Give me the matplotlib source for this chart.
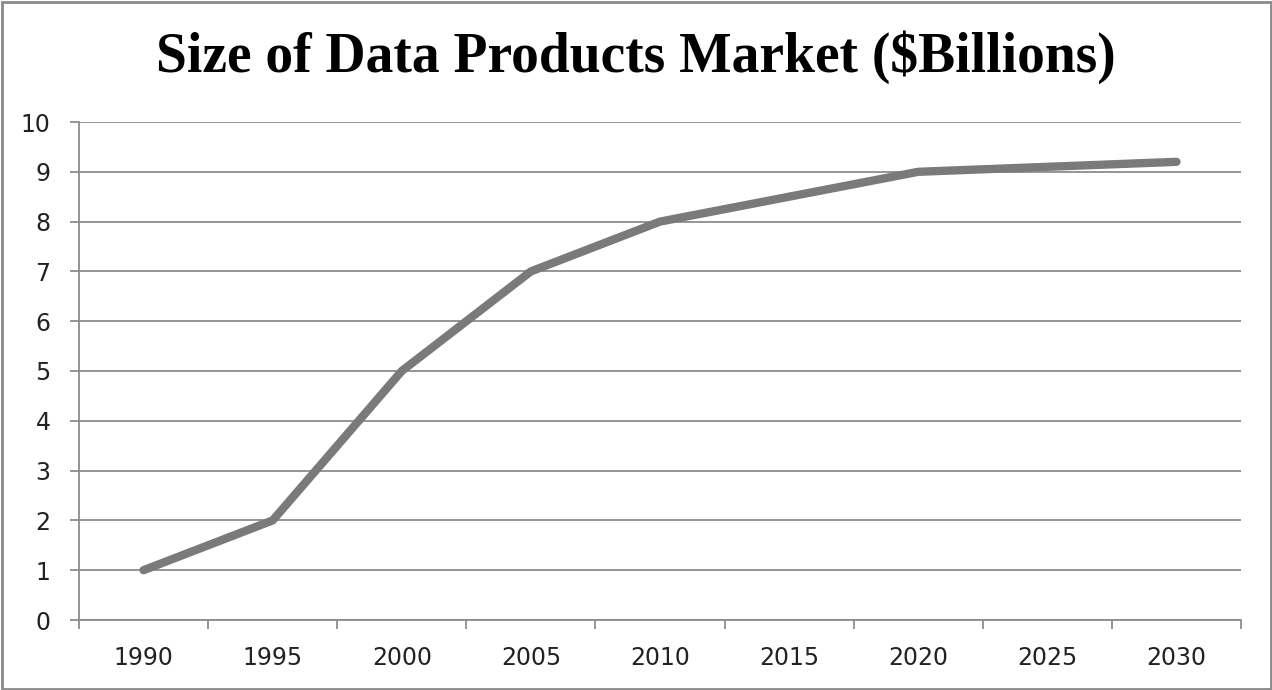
import numpy as np
import matplotlib.pyplot as plt
from matplotlib.patches import Rectangle

# chart data
years = ['1990', '1995', '2000', '2005', '2010', '2015', '2020', '2025', '2030']
market_size = [1, 2, 5, 7, 8, 8.5, 9, 9.1, 9.2]
y_ticks = list(range(0, 11))

grid_col = '#8c8c8c'
line_col = '#7a7a7a'

fig = plt.figure(figsize=(12.72, 6.9), dpi=100)
ax = fig.add_axes([79 / 1272, 70 / 690, (1241 - 79) / 1272, (620 - 122) / 690])

x = np.arange(len(years))
ax.plot(x, market_size, color=line_col, linewidth=6, solid_capstyle='round',
        solid_joinstyle='round', zorder=3)

ax.set_xlim(-0.5, len(years) - 0.5)
ax.set_ylim(0, 10)

# category axis: ticks between categories, labels at centres
ax.set_xticks(np.arange(-0.5, len(years)), minor=False)
ax.set_xticklabels([])
ax.set_xticks(x, minor=True)
ax.set_xticklabels(years, minor=True, fontsize=17, color='#222222')
ax.tick_params(axis='x', which='major', length=6.5, width=1.3, color=grid_col, direction='out')
ax.tick_params(axis='x', which='minor', length=0, pad=19)

ax.set_yticks(y_ticks)
ax.set_yticklabels([str(v) for v in y_ticks], fontsize=17, color='#222222')
ax.tick_params(axis='y', length=6.5, width=1.3, color=grid_col, direction='out', pad=14)

ax.yaxis.grid(True, color=grid_col, linewidth=1.3)
ax.set_axisbelow(True)
for side in ['top', 'right']:
    ax.spines[side].set_visible(False)
for side in ['left', 'bottom']:
    ax.spines[side].set_color(grid_col)
    ax.spines[side].set_linewidth(1.3)

fig.text(0.5, 1 - 57 / 690, 'Size of Data Products Market ($Billions)',
         ha='center', va='center', fontsize=40, fontweight='bold',
         family='Liberation Serif', color='black')

# outer chart frame
fig.patches.append(Rectangle((1.5 / 1272, 1.5 / 690), 1 - 3 / 1272, 1 - 3 / 690,
                             transform=fig.transFigure, fill=False,
                             edgecolor='#8a8a8a', linewidth=2))

plt.savefig('out.png', dpi=100)
